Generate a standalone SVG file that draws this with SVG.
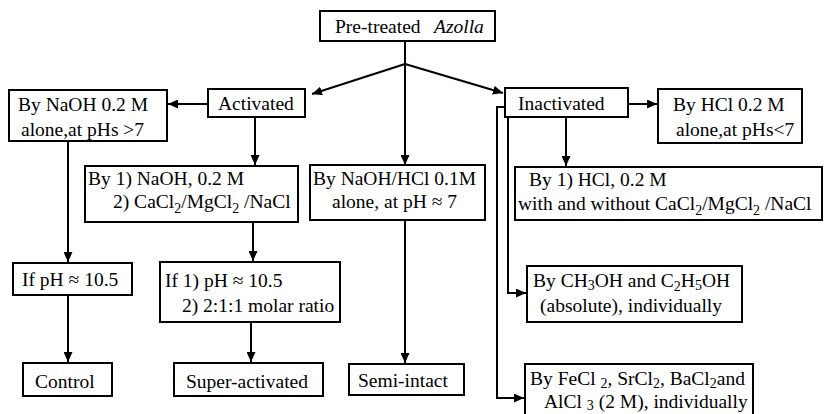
<svg xmlns="http://www.w3.org/2000/svg" width="824" height="414" viewBox="0 0 824 414">
<style>
.box{fill:#fff;stroke:#000;stroke-width:2}
.t{font-family:'Liberation Serif','Tinos','Times New Roman','DejaVu Serif',serif;font-size:19.5px;fill:#000}
.con{fill:none;stroke:#000;stroke-width:2}
.s{font-size:14px}
</style>
<defs>
<marker id="ah" markerUnits="userSpaceOnUse" markerWidth="11" markerHeight="9" refX="10" refY="4.5" orient="auto">
<path d="M0,0 L10,4.5 L0,9 z" fill="#000"/>
</marker>
</defs>
<rect width="824" height="414" fill="#fff"/>
<g id="connectors">
<path class="con" d="M405 41 V165" marker-end="url(#ah)"/>
<path class="con" d="M405 64 L312 94" marker-end="url(#ah)"/>
<path class="con" d="M405 64 L503 93" marker-end="url(#ah)"/>
<path class="con" d="M208 104 H168" marker-end="url(#ah)"/>
<path class="con" d="M255 117 V165" marker-end="url(#ah)"/>
<path class="con" d="M68 141 V262" marker-end="url(#ah)"/>
<path class="con" d="M68 295 V362" marker-end="url(#ah)"/>
<path class="con" d="M253 222 V261" marker-end="url(#ah)"/>
<path class="con" d="M251 322 V362" marker-end="url(#ah)"/>
<path class="con" d="M405 220 V363" marker-end="url(#ah)"/>
<path class="con" d="M628 104 H657" marker-end="url(#ah)"/>
<path class="con" d="M566 117 V166" marker-end="url(#ah)"/>
<path class="con" d="M508 117 V293 H526" marker-end="url(#ah)"/>
<path class="con" d="M505 107 H497 V398 H524" marker-end="url(#ah)"/>
</g>
<g id="pretreated">
<rect class="box" x="320" y="11" width="175" height="30"/>
<text class="t" x="335" y="33">Pre-treated <tspan x="434" font-style="italic">Azolla</tspan></text>
</g>
<g id="activated">
<rect class="box" x="208" y="89" width="97" height="28"/>
<text class="t" x="218" y="110">Activated</text>
</g>
<g id="naoh-alone">
<rect class="box" x="9" y="90" width="158" height="51"/>
<text class="t" x="18" y="111">By NaOH 0.2 M</text>
<text class="t" x="21" y="136">alone,at pHs &gt;7</text>
</g>
<g id="inactivated">
<rect class="box" x="505" y="88" width="123" height="29"/>
<text class="t" x="518" y="110">Inactivated</text>
</g>
<g id="hcl-alone">
<rect class="box" x="658" y="89" width="144" height="54"/>
<text class="t" x="673" y="111">By HCl 0.2 M</text>
<text class="t" x="676" y="136">alone,at pHs&lt;7</text>
</g>
<g id="naoh-salts">
<rect class="box" x="85" y="166" width="213" height="56"/>
<text class="t" x="88" y="185">By 1) NaOH, 0.2 M</text>
<text class="t" x="113" y="208">2) CaCl<tspan class="s" dy="5">2</tspan><tspan dy="-5">/MgCl</tspan><tspan class="s" dy="5">2</tspan><tspan dy="-5"> /NaCl</tspan></text>
</g>
<g id="naoh-hcl">
<rect class="box" x="310" y="165" width="175" height="55"/>
<text class="t" x="313" y="185">By NaOH/HCl 0.1M</text>
<text class="t" x="332" y="208">alone,  at pH ≈ 7</text>
</g>
<g id="hcl-salts">
<rect class="box" x="515" y="167" width="307" height="53"/>
<text class="t" x="529" y="186">By 1)  HCl, 0.2 M</text>
<text class="t" x="518" y="210">with and without  CaCl<tspan class="s" dy="5">2</tspan><tspan dy="-5">/MgCl</tspan><tspan class="s" dy="5">2</tspan><tspan dy="-5"> /NaCl</tspan></text>
</g>
<g id="if-ph">
<rect class="box" x="13" y="263" width="119" height="32"/>
<text class="t" x="22" y="286">If pH ≈ 10.5</text>
</g>
<g id="if-ph-ratio">
<rect class="box" x="160" y="262" width="180" height="60"/>
<text class="t" x="165" y="287">If 1) pH ≈ 10.5</text>
<text class="t" x="182" y="312">2) 2:1:1 molar ratio</text>
</g>
<g id="alcohols">
<rect class="box" x="527" y="266" width="215" height="56"/>
<text class="t" x="533" y="287">By  CH<tspan class="s" dy="3">3</tspan><tspan dy="-3">OH and C</tspan><tspan class="s" dy="4">2</tspan><tspan dy="-4">H</tspan><tspan class="s" dy="3">5</tspan><tspan dy="-3">OH</tspan></text>
<text class="t" x="540" y="312">(absolute), individually</text>
</g>
<g id="control">
<rect class="box" x="23" y="363" width="89" height="33"/>
<text class="t" x="35" y="388">Control</text>
</g>
<g id="super-activated">
<rect class="box" x="174" y="363" width="149" height="33"/>
<text class="t" x="186" y="388">Super-activated</text>
</g>
<g id="semi-intact">
<rect class="box" x="349" y="364" width="115" height="31"/>
<text class="t" x="358" y="387">Semi-intact</text>
</g>
<g id="metal-salts">
<rect class="box" x="525" y="364" width="228" height="52"/>
<text class="t" x="530" y="385">By FeCl <tspan class="s" dy="3">2</tspan><tspan dy="-3">, SrCl</tspan><tspan class="s" dy="3">2</tspan><tspan dy="-3">, BaCl</tspan><tspan class="s" dy="3">2</tspan><tspan dy="-3">and</tspan></text>
<text class="t" x="544" y="408">AlCl <tspan class="s" dy="2">3</tspan><tspan dy="-2"> (2 M), individually</tspan></text>
</g>
</svg>
